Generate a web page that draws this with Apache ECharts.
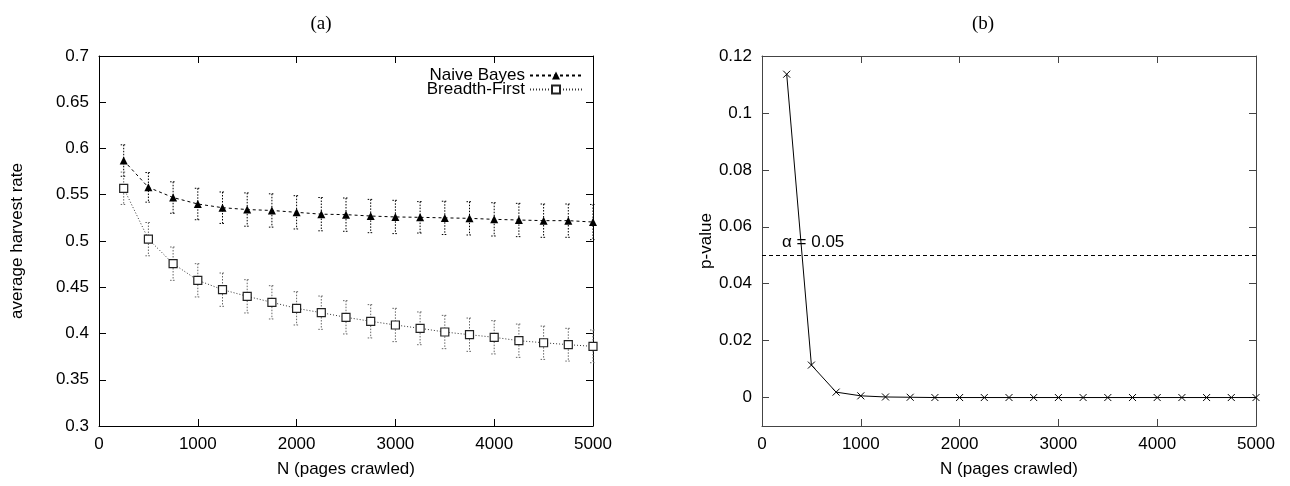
<!DOCTYPE html>
<html>
<head>
<meta charset="utf-8">
<script src="https://cdn.jsdelivr.net/npm/echarts@6/dist/echarts.min.js"></script>
<style>
html,body{margin:0;padding:0;background:#fff;}
#chart{width:1290px;height:486px;}
</style>
</head>
<body>
<div id="chart"></div>
<script>
// ---- data ----
const pagesCrawled = [250,500,750,1000,1250,1500,1750,2000,2250,2500,2750,3000,3250,3500,3750,4000,4250,4500,4750,5000];
const naiveBayes    = [0.587,0.558,0.547,0.540,0.536,0.534,0.533,0.531,0.529,0.5285,0.527,0.526,0.5256,0.525,0.5245,0.5234,0.5227,0.522,0.522,0.5205];
const naiveBayesErr = [0.017,0.016,0.017,0.017,0.017,0.018,0.018,0.018,0.018,0.018,0.018,0.018,0.017,0.018,0.018,0.018,0.018,0.018,0.018,0.019];
const breadthFirst    = [0.557,0.502,0.4755,0.4575,0.4474,0.4402,0.4337,0.4272,0.4225,0.4175,0.4132,0.4092,0.4056,0.4016,0.3987,0.3959,0.3922,0.390,0.3879,0.3861];
const breadthFirstErr = [0.0175,0.018,0.018,0.018,0.018,0.018,0.018,0.018,0.018,0.018,0.018,0.018,0.0177,0.018,0.018,0.018,0.018,0.018,0.0177,0.0177];
const pValues = [0.1136,0.0114,0.0019,0.0006,0.0002,0.0001,0,0,0,0,0,0,0,0,0,0,0,0,0,0];
const alphaLevel = 0.05;
const xTicks = [0,1000,2000,3000,4000,5000];
const yTicksA = [0.3,0.35,0.4,0.45,0.5,0.55,0.6,0.65,0.7];
const yTicksB = [0,0.02,0.04,0.06,0.08,0.1,0.12];
const panelTitles = ['(a)','(b)'];
const seriesNames = ['Naive Bayes','Breadth-First'];

const FONT = "'Liberation Sans', Arial, Helvetica, sans-serif";
const zip = (xs, ys) => xs.map((x,i)=>[x, ys[i]]);
const zip3 = (xs, ys, es) => xs.map((x,i)=>[x, ys[i], es[i]]);
const fmt = v => String(parseFloat(Number(v).toFixed(3)));

function xAxes(grid, color){
  const base = {
    gridIndex: grid, type:'value', min:0, max:5000,
    axisLine:{show:true, onZero:false, lineStyle:{color:color, width:1}},
    axisTick:{show:true, inside:true, length:7, customValues:xTicks, lineStyle:{color:color}},
    splitLine:{show:false}
  };
  return [
    Object.assign({}, base, {position:'bottom',
      axisLabel:{show:true, customValues:xTicks, margin:10, color:'#000', fontSize:17, fontFamily:FONT, formatter:fmt},
      name:'N (pages crawled)', nameLocation:'middle', nameGap:35,
      nameTextStyle:{color:'#000', fontSize:17, fontFamily:FONT}}),
    Object.assign({}, base, {position:'top', axisLabel:{show:false}})
  ];
}
function yAxes(grid, color, min, max, ticks, name, nameGap){
  const base = {
    gridIndex: grid, type:'value', min:min, max:max,
    axisLine:{show:true, onZero:false, lineStyle:{color:color, width:1}},
    axisTick:{show:true, inside:true, length:7, customValues:ticks, lineStyle:{color:color}},
    splitLine:{show:false}
  };
  return [
    Object.assign({}, base, {position:'left',
      axisLabel:{show:true, customValues:ticks, margin:10, color:'#000', fontSize:17, fontFamily:FONT, formatter:fmt},
      name:name, nameLocation:'middle', nameGap:nameGap, nameRotate:90,
      nameTextStyle:{color:'#000', fontSize:17, fontFamily:FONT}}),
    Object.assign({}, base, {position:'right', axisLabel:{show:false}})
  ];
}

function errorBars(color){
  return function(params, api){
    const x = api.value(0), y = api.value(1), e = api.value(2);
    const top = api.coord([x, y+e]);
    const bot = api.coord([x, y-e]);
    const w = 3;
    const style = {stroke:color, lineWidth:1, lineDash:[1.5,1.5]};
    return {type:'group', children:[
      {type:'line', shape:{x1:top[0], y1:top[1], x2:bot[0], y2:bot[1]}, style:style},
      {type:'line', shape:{x1:top[0]-w, y1:top[1], x2:top[0]+w, y2:top[1]}, style:style},
      {type:'line', shape:{x1:bot[0]-w, y1:bot[1], x2:bot[0]+w, y2:bot[1]}, style:style}
    ]};
  };
}

const chart = echarts.init(document.getElementById('chart'), null, {renderer:'canvas'});
const xa = xAxes(0,'#000').concat(xAxes(1,'#444'));
const ya = yAxes(0,'#000',0.3,0.7,yTicksA,'average harvest rate',73)
   .concat(yAxes(1,'#444',-0.01,0.12,yTicksB,'p-value',44));
const titleFont = {fontFamily:"'Liberation Serif', 'DejaVu Serif', serif", fontWeight:'normal', fontSize:19, color:'#000'};

chart.setOption({
  animation:false,
  backgroundColor:'#fff',
  title:[
    {text:panelTitles[0], left:316, top:10, textAlign:'center', textStyle:titleFont},
    {text:panelTitles[1], left:978, top:10, textAlign:'center', textStyle:titleFont}
  ],
  grid:[
    {left:99, right:697, top:56, bottom:60, show:false},
    {left:762, right:34, top:56, bottom:60, show:false}
  ],
  legend:{
    data:seriesNames, orient:'vertical', align:'right',
    right:702, top:62, itemGap:-3, itemWidth:52, itemHeight:10,
    textStyle:{fontFamily:FONT, fontSize:17, color:'#000', lineHeight:15},
    selectedMode:false
  },
  xAxis: xa,
  yAxis: ya,
  series:[
    {type:'custom', name:'nb-err', xAxisIndex:0, yAxisIndex:0, renderItem:errorBars('#000'),
     data:zip3(pagesCrawled, naiveBayes, naiveBayesErr), z:1, silent:true},
    {type:'custom', name:'bf-err', xAxisIndex:0, yAxisIndex:0, renderItem:errorBars('#666'),
     data:zip3(pagesCrawled, breadthFirst, breadthFirstErr), z:1, silent:true},
    {type:'line', name:seriesNames[0], xAxisIndex:0, yAxisIndex:0,
     data:zip(pagesCrawled, naiveBayes),
     symbol:'triangle', symbolSize:8, showAllSymbol:true,
     lineStyle:{color:'#000', width:1, type:[3,3]},
     itemStyle:{color:'#000', borderColor:'#000', borderWidth:0}, z:3},
    {type:'line', name:seriesNames[1], xAxisIndex:0, yAxisIndex:0,
     data:zip(pagesCrawled, breadthFirst),
     symbol:'rect', symbolSize:8, showAllSymbol:true,
     lineStyle:{color:'#333', width:1, type:[1,2]},
     itemStyle:{color:'#fff', borderColor:'#222', borderWidth:1.2}, z:3},
    {type:'line', name:'p-value', xAxisIndex:2, yAxisIndex:2,
     data:zip(pagesCrawled, pValues),
     symbol:'path://M0,0L10,10M10,0L0,10', symbolSize:7, showAllSymbol:true,
     lineStyle:{color:'#000', width:1},
     itemStyle:{color:'transparent', borderColor:'#000', borderWidth:1}, z:3,
     markLine:{silent:true, symbol:['none','none'],
       lineStyle:{color:'#000', width:1, type:[4,3]},
       label:{show:true, position:'insideStartTop', formatter:'α = 0.05',
              distance:[20,4], color:'#000', fontSize:17, fontFamily:FONT},
       data:[{yAxis:alphaLevel}]}}
  ]
});
</script>
</body>
</html>
